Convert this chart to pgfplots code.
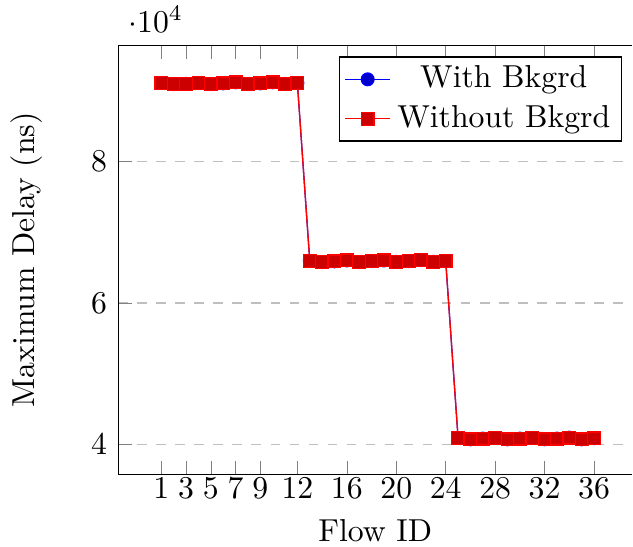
\documentclass[border=0pt]{standalone}
\usepackage{pgfplots}
\pgfplotsset{compat=1.18}
\pgfplotstableread{
x y
1 91100
2 90950
3 90980
4 91100
5 90950
6 91050
7 91200
8 90950
9 91050
10 91200
11 90980
12 91100
13 65950
14 65770
15 65870
16 66000
17 65770
18 65900
19 66000
20 65810
21 65900
22 66050
23 65810
24 65900
25 40890
26 40700
27 40800
28 40890
29 40700
30 40800
31 40890
32 40700
33 40800
34 40940
35 40700
36 40850
}\withbg
\pgfplotstableread{
x y
1 91100
2 90950
3 90980
4 91100
5 90950
6 91050
7 91200
8 90950
9 91050
10 91200
11 90980
12 91100
13 65950
14 65770
15 65870
16 66000
17 65770
18 65900
19 66000
20 65810
21 65900
22 66050
23 65810
24 65900
25 40890
26 40700
27 40800
28 40890
29 40700
30 40800
31 40890
32 40700
33 40800
34 40940
35 40700
36 40850
}\withoutbg
\begin{document}
\begin{tikzpicture}
\begin{axis}[
  scale only axis,
  width=162pt, height=135pt,
  xmin=-2.5, xmax=39.1,
  ymin=35770, ymax=96380,
  axis x line=box,
  axis y line*=left,
  y axis line style={-},
  xtick={1,3,5,7,9,12,16,20,24,28,32,36},
  ytick={40000,60000,80000},
  ymajorgrids,
  grid style={dashed, gray!50},
  xlabel={Flow ID},
  ylabel={Maximum Delay (ns)},
  ylabel style={yshift=8.5pt},
  xlabel style={yshift=-1.5pt, inner ysep=1.5pt},
  xticklabel style={yshift=2.3pt},
  legend cell align=center,
  legend style={at={(0.98,0.975)}, anchor=north east, inner xsep=1.5pt, inner ysep=0.8pt},
  legend image code/.code={\draw[mark repeat=2,mark phase=2] plot coordinates {(0cm,0cm) (0.25cm,0cm) (0.5cm,0cm)};},
]
\addplot+[blue, mark=*, mark options={fill=blue!80!black}] table[x=x,y=y] {\withbg};
\addlegendentry{With Bkgrd}
\addplot+[red, mark=square*, mark options={fill=red!80!black}] table[x=x,y=y] {\withoutbg};
\addlegendentry{Without Bkgrd}
\end{axis}
\path (current bounding box.north) ++(0,2pt);
\end{tikzpicture}
\end{document}
